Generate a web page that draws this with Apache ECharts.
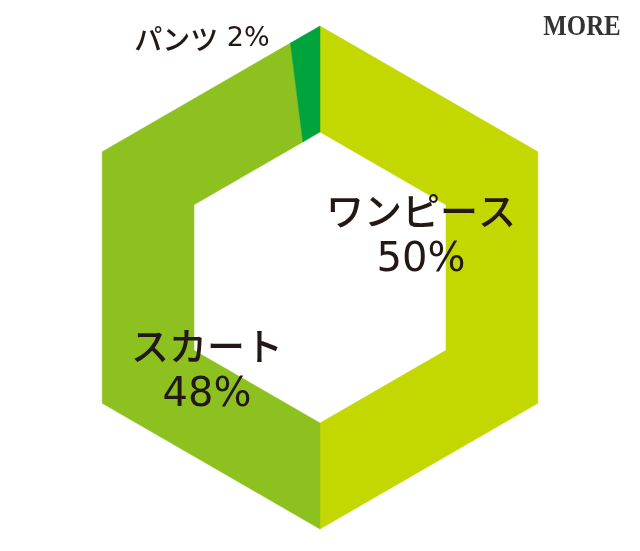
<!DOCTYPE html>
<html>
<head>
<meta charset="utf-8">
<script src="https://cdn.jsdelivr.net/npm/echarts@6/dist/echarts.min.js"></script>
<style>
  html, body { margin: 0; padding: 0; background: #fff; }
  #chart1 { width: 640px; height: 551px; }
</style>
</head>
<body>
<div id="chart1"></div>
<script>
// データ
var categories = ['ワンピース', 'スカート', 'パンツ'];
var values = [50, 48, 2];
var percentLabels = ['50%', '48%', '2%'];
var colors = ['#C3D700', '#8CC11F', '#00A33C'];

var total = values.reduce(function (a, b) { return a + b; }, 0);

// 六角形の外周上の点 (角度は上から時計回り)
function hexPoint(cx, cy, R, deg) {
    var phi = (((deg % 60) + 60) % 60) - 30;
    var r = R * Math.cos(Math.PI / 6) / Math.cos(phi * Math.PI / 180);
    var a = deg * Math.PI / 180;
    return [cx + r * Math.sin(a), cy - r * Math.cos(a)];
}

function edgePoints(cx, cy, R, a0, a1) {
    var pts = [hexPoint(cx, cy, R, a0)];
    var v = Math.floor(a0 / 60) * 60 + 60;
    while (v < a1) {
        pts.push(hexPoint(cx, cy, R, v));
        v += 60;
    }
    pts.push(hexPoint(cx, cy, R, a1));
    return pts;
}

var richStyle = {
    n: { font: '500 38px "Noto Sans CJK JP"', fill: '#231815', lineHeight: 50 },
    p: { font: '40px "DejaVu Sans"', fill: '#231815', lineHeight: 50 },
    ns: { font: '500 28px "Noto Sans CJK JP"', fill: '#231815' },
    ps: { font: '27px "DejaVu Sans"', fill: '#231815' }
};

function label(i, x, y, small) {
    var text = small
        ? '{ns|' + categories[i] + '}{ps|\u00a0' + percentLabels[i] + '}'
        : '{n|' + categories[i] + '}\n{p|' + percentLabels[i] + '}';
    return {
        type: 'text', x: x, y: y, z: 100,
        style: { text: text, rich: richStyle, align: 'center', verticalAlign: 'middle' }
    };
}

var myChart = echarts.init(document.getElementById('chart1'));
myChart.setOption({
    animation: false,
    series: [{
        type: 'custom',
        coordinateSystem: 'none',
        z: 1,
        data: values.map(function (v, i) {
            return { name: categories[i], value: [v], itemStyle: { color: colors[i] } };
        }),
        renderItem: function (params, api) {
            var cx = 320, cy = 277.5, R = 251.5, r = 145.5;
            var before = 0;
            for (var i = 0; i < params.dataIndex; i++) before += values[i];
            var a0 = before / total * 360;
            var a1 = (before + api.value(0)) / total * 360;
            var outer = edgePoints(cx, cy, R, a0, a1);
            var inner = edgePoints(cx, cy, r, a0, a1).reverse();
            return {
                type: 'polygon',
                shape: { points: outer.concat(inner) },
                style: { fill: colors[params.dataIndex], stroke: colors[params.dataIndex], lineWidth: 0.5 }
            };
        }
    }],
    graphic: [
        label(0, 421, 236, false),
        label(1, 207, 371, false),
        label(2, 202, 39, true),
        {
            type: 'text', x: 582, y: 27, z: 100, scaleX: 0.83,
            style: {
                text: 'MORE', x: 0, y: 0, align: 'center', verticalAlign: 'middle',
                font: 'bold 30px "Liberation Serif"', fill: '#333333'
            }
        }
    ]
});
</script>
</body>
</html>
